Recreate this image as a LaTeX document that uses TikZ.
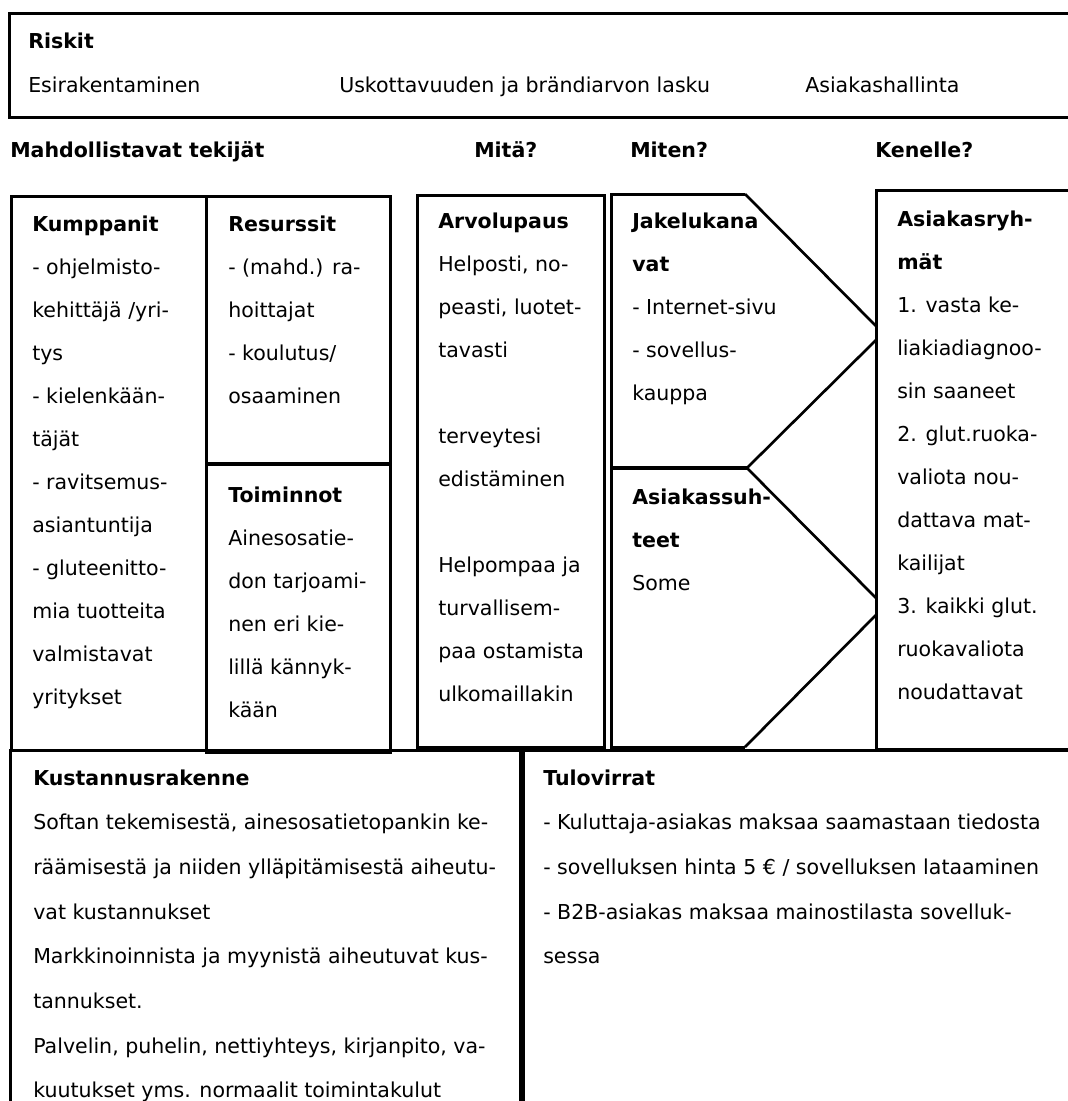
\documentclass[tikz,border=0pt]{standalone}
\usepackage{fontspec}
\setmainfont{DejaVu Sans}
\begin{document}
\begin{tikzpicture}[x=0.75pt,y=-0.75pt,line join=miter]
\tikzset{
  frame/.style={draw=black,line width=2.25pt},
  heavy/.style={draw=black,line width=3.4pt},
  slant/.style={draw=black,line width=2pt},
  txt/.style={inner sep=0pt,anchor=base west,font=\fontsize{15.4}{18}\selectfont},
  ttl/.style={txt,font=\fontsize{15.4}{18}\selectfont\bfseries},
}
\useasboundingbox (0,0) rectangle (1068,1101);
\clip (0,0) rectangle (1068,1101);

% ---- risks strip ----
\draw[frame] (9,13) rectangle (1090,117);
\node[ttl] (riskit) at (28,48) {Riskit};
\node[txt] (risk1) at (28,92) {Esirakentaminen};
\node[txt] (risk2) at (339,92) {Uskottavuuden ja brändiarvon lasku};
\node[txt] (risk3) at (805,92) {Asiakashallinta};

% ---- column headings ----
\node[ttl] (hdr1) at (10,157) {Mahdollistavat tekijät};
\node[ttl] (hdr2) at (474,157) {Mitä?};
\node[ttl] (hdr3) at (630,157) {Miten?};
\node[ttl] (hdr4) at (875,157) {Kenelle?};

% ---- canvas blocks ----
\draw[frame] (11,196) rectangle (206,750);          % Kumppanit
\draw[frame] (206,196) rectangle (390,464);         % Resurssit
\draw[frame] (206,464) rectangle (390,752);         % Toiminnot
\draw[heavy] (206,464) -- (390,464);
\draw[frame] (417,195) rectangle (604,747);         % Arvolupaus
\draw[frame] (611,468) -- (611,194) -- (745,194);   % Jakelukanavat
\draw[slant] (745,194) -- (876,326);
\draw[slant] (876,340) -- (747,468);
\draw[frame] (611,468) -- (611,747) -- (745,747);   % Asiakassuhteet
\draw[heavy] (611,468) -- (747,468);
\draw[slant] (747,468) -- (876,598);
\draw[slant] (876,615) -- (745,747);
\draw[frame] (876,190) rectangle (1090,749);        % Asiakasryhmat
\draw[frame] (10,750) rectangle (1090,1130);        % bottom row
\draw[draw=black,line width=5pt] (522,750) -- (522,1130);

% ---- texts ----
\newcommand\blocklines[5]{%
  \foreach \t [count=\i from 0] in {#5}
    \node[txt] (#1-\i) at (#2,#3+\i*#4) {\t};}

\node[ttl] (kump) at (32,231) {Kumppanit};
\blocklines{kump}{32}{274}{43}{{- ohjelmisto-},{kehittäjä /yri-},{tys},{- kielenkään-},{täjät},{- ravitsemus-},{asiantuntija},{- gluteenitto-},{mia tuotteita},{valmistavat},{yritykset}}

\node[ttl] (res) at (228,231) {Resurssit};
\blocklines{res}{228}{274}{43}{{- (mahd.) ra-},{hoittajat},{- koulutus/},{osaaminen}}

\node[ttl] (toim) at (228,502) {Toiminnot};
\blocklines{toim}{228}{545}{43}{{Ainesosatie-},{don tarjoami-},{nen eri kie-},{lillä kännyk-},{kään}}

\node[ttl] (arvo) at (438,228) {Arvolupaus};
\blocklines{arvo}{438}{271}{43}{{Helposti, no-},{peasti, luotet-},{tavasti},{},{terveytesi},{edistäminen},{},{Helpompaa ja},{turvallisem-},{paa ostamista},{ulkomaillakin}}

\node[ttl] (jak) at (632,228) {Jakelukana};
\node[ttl] (jakb) at (632,271) {vat};
\blocklines{jak}{632}{314}{43}{{- Internet-sivu},{- sovellus-},{kauppa}}

\node[ttl] (suh) at (632,504) {Asiakassuh-};
\node[ttl] (suhb) at (632,547) {teet};
\node[txt] (suh-0) at (632,590) {Some};

\node[ttl] (ryh) at (897,226) {Asiakasryh-};
\node[ttl] (ryhb) at (897,269) {mät};
\blocklines{ryh}{897}{312}{43}{{1. vasta ke-},{liakiadiagnoo-},{sin saaneet},{2. glut.ruoka-},{valiota nou-},{dattava mat-},{kailijat},{3. kaikki glut.},{ruokavaliota},{noudattavat}}

\node[ttl] (kust) at (33,785) {Kustannusrakenne};
\blocklines{kust}{33}{829.7}{44.7}{{Softan tekemisestä, ainesosatietopankin ke-},{räämisestä ja niiden ylläpitämisestä aiheutu-},{vat kustannukset},{Markkinoinnista ja myynistä aiheutuvat kus-},{tannukset.},{Palvelin, puhelin, nettiyhteys, kirjanpito, va-},{kuutukset yms. normaalit toimintakulut}}

\node[ttl] (tulo) at (543,785) {Tulovirrat};
\blocklines{tulo}{543}{829.7}{44.7}{{- Kuluttaja-asiakas maksaa saamastaan tiedosta},{- sovelluksen hinta 5 € / sovelluksen lataaminen},{- B2B-asiakas maksaa mainostilasta sovelluk-},{sessa}}
\end{tikzpicture}
\end{document}
